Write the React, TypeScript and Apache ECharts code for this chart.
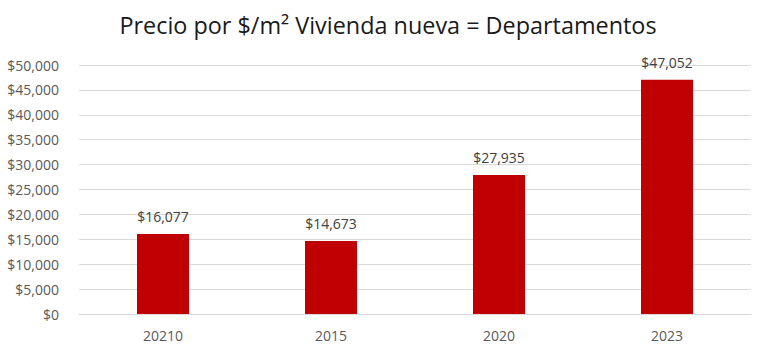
import React, { useEffect, useRef } from "react";
import * as echarts from "echarts";

const categories = ["20210", "2015", "2020", "2023"];
const values = [16077, 14673, 27935, 47052];
const titleText = "Precio por $/m² Vivienda nueva = Departamentos";

const fmt = (v: number) => "$" + v.toLocaleString("en-US");

export default function App() {
  const ref = useRef<HTMLDivElement>(null);
  useEffect(() => {
    if (!ref.current) return;
    const chart = echarts.init(ref.current, null, { renderer: "svg" });
    chart.setOption({
      animation: false,
      backgroundColor: "#ffffff",
      title: {
        text: titleText,
        left: 383,
        textAlign: "center",
        top: 8,
        textStyle: {
          fontFamily: "Open Sans",
          fontSize: 23.4,
          fontWeight: "normal",
          color: "#1a1a1a",
        },
      },
      grid: { left: 79, right: 17, top: 65, bottom: 41 },
      xAxis: {
        type: "category",
        data: categories,
        axisLine: { show: true, lineStyle: { color: "#d9d9d9", width: 1 } },
        axisTick: { show: false },
        axisLabel: {
          color: "#595959",
          fontFamily: "Open Sans",
          fontSize: 14,
          margin: 14,
        },
      },
      yAxis: {
        type: "value",
        min: 0,
        max: 50000,
        interval: 5000,
        axisLine: { show: false },
        axisTick: { show: false },
        splitLine: { lineStyle: { color: "#d9d9d9", width: 1 } },
        axisLabel: {
          color: "#595959",
          fontFamily: "Open Sans",
          fontSize: 14,
          margin: 20,
          formatter: (v: number) => fmt(v),
        },
      },
      series: [
        {
          type: "bar",
          data: values,
          barWidth: 52,
          itemStyle: { color: "#c00000" },
          label: {
            show: true,
            position: "top",
            distance: 10,
            color: "#404040",
            fontFamily: "Open Sans",
            fontSize: 14,
            formatter: (p: any) => fmt(p.value),
          },
        },
      ],
    });
    return () => chart.dispose();
  }, []);
  return (
    <div
      ref={ref}
      style={{ position: "fixed", left: 0, top: 0, width: 768, height: 355 }}
    />
  );
}
